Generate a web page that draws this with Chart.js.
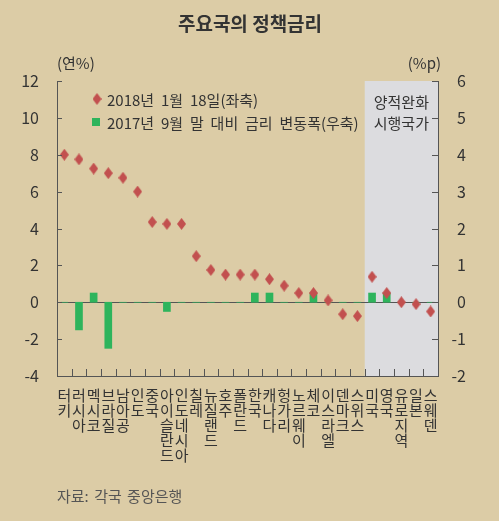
<!DOCTYPE html>
<html>
<head>
<meta charset="utf-8">
<script src="https://cdn.jsdelivr.net/npm/chart.js@4.4.1/dist/chart.umd.min.js"></script>
<style>
  html, body { margin: 0; padding: 0; background: #dccca6; }
  canvas { display: block; }
</style>
</head>
<body>
<canvas id="chart" width="499" height="521"></canvas>
<script>
// 국가 (x축 라벨은 세로쓰기라 한 글자씩 줄바꿈)
const countries = ['터키', '러시아', '멕시코', '브라질', '남아공', '인도', '중국', '아이슬란드',
    '인도네시아', '칠레', '뉴질랜드', '호주', '폴란드', '한국', '캐나다', '헝가리', '노르웨이',
    '체코', '이스라엘', '덴마크', '스위스', '미국', '영국', '유로지역', '일본', '스웨덴'];

// 2018년 1월 18일 정책금리 (좌축, 연%)
const rates = [8.0, 7.75, 7.25, 7.0, 6.75, 6.0, 4.35, 4.25, 4.25, 2.5, 1.75, 1.5, 1.5, 1.5,
    1.25, 0.9, 0.5, 0.5, 0.1, -0.65, -0.75, 1.38, 0.5, 0.0, -0.1, -0.5];

// 2017년 9월 말 대비 금리 변동폭 (우축, %p)
const changes = [0, -0.75, 0.25, -1.25, 0, 0, 0, -0.25, 0, 0, 0, 0, 0, 0.25, 0.25, 0, 0,
    0.25, 0, 0, 0, 0.25, 0.25, 0, 0, 0];

const qeFirst = 21; // 미국부터 양적완화 시행국가

const FONT = '"Noto Sans CJK KR", "Noto Sans", sans-serif';
const RED = '#c2504f';
const GREEN = '#2eb45c';
const AXIS = '#555555';
const TEXT = '#333333';

function diamondImage(w, h, color) {
    const c = document.createElement('canvas');
    c.width = w;
    c.height = h;
    const g = c.getContext('2d');
    g.fillStyle = color;
    g.beginPath();
    g.moveTo(w / 2, 0);
    g.lineTo(w, h / 2);
    g.lineTo(w / 2, h);
    g.lineTo(0, h / 2);
    g.closePath();
    g.fill();
    return c;
}
const diamond = diamondImage(9, 12, RED);

const decorations = {
    id: 'decorations',
    beforeDraw(chart) {
        const {ctx, chartArea: a, scales: {x}} = chart;
        const left = x.getPixelForValue(qeFirst - 0.5);
        ctx.save();
        ctx.fillStyle = '#dcdcdf';
        ctx.fillRect(left, a.top, a.right - left, a.bottom - a.top);
        ctx.restore();
    },
    beforeDatasetsDraw(chart) {
        const {ctx, chartArea: a, scales: {y}} = chart;
        const y0 = Math.round(y.getPixelForValue(0)) + 0.5;
        ctx.save();
        ctx.strokeStyle = AXIS;
        ctx.lineWidth = 1;
        ctx.beginPath();
        ctx.moveTo(a.left, y0);
        ctx.lineTo(a.right, y0);
        ctx.stroke();
        ctx.restore();
    },
    afterDraw(chart) {
        const {ctx, chartArea: a, scales: {x, y, y2}} = chart;
        ctx.save();
        ctx.strokeStyle = AXIS;
        ctx.lineWidth = 1;
        ctx.beginPath();
        // 안쪽으로 향하는 눈금
        y.ticks.forEach(t => {
            const py = Math.round(y.getPixelForValue(t.value)) + 0.5;
            ctx.moveTo(a.left, py);
            ctx.lineTo(a.left + 5, py);
        });
        y2.ticks.forEach(t => {
            const py = Math.round(y2.getPixelForValue(t.value)) + 0.5;
            ctx.moveTo(a.right, py);
            ctx.lineTo(a.right - 6, py);
        });
        for (let i = 1; i < countries.length; i++) {
            const px = Math.round(x.getPixelForValue(i - 0.5)) + 0.5;
            ctx.moveTo(px, a.bottom);
            ctx.lineTo(px, a.bottom - 7);
        }
        ctx.stroke();

        // 우축 눈금 라벨 (오른쪽 정렬)
        ctx.fillStyle = TEXT;
        ctx.font = '16px ' + FONT;
        ctx.textAlign = 'right';
        ctx.textBaseline = 'middle';
        y2.ticks.forEach(t => {
            ctx.fillText(String(t.value), a.right + 28, y2.getPixelForValue(t.value));
        });

        ctx.font = 'bold 19px ' + FONT;
        ctx.textAlign = 'center';
        ctx.fillText('주요국의 정책금리', 250, 24);

        ctx.font = '15px ' + FONT;
        ctx.textAlign = 'left';
        ctx.fillText('(연%)', 57, 63);
        ctx.textAlign = 'right';
        ctx.fillText('(%p)', 441, 63);

        ctx.textAlign = 'center';
        const qeMid = (x.getPixelForValue(qeFirst - 0.5) + a.right) / 2;
        ctx.fillText('양적완화', qeMid, 102);
        ctx.fillText('시행국가', qeMid, 123);

        // 범례
        ctx.textAlign = 'left';
        ctx.font = '15px ' + FONT;
        ctx.wordSpacing = '3.5px';
        ctx.drawImage(diamond, 97 - diamond.width / 2, 99 - diamond.height / 2);
        ctx.fillText('2018년 1월 18일(좌축)', 107, 100);
        ctx.fillStyle = GREEN;
        ctx.fillRect(92, 118, 8, 8);
        ctx.fillStyle = TEXT;
        ctx.fillText('2017년 9월 말 대비 금리 변동폭(우축)', 107, 123);

        ctx.wordSpacing = '2px';
        ctx.fillStyle = '#555555';
        ctx.fillText('자료: 각국 중앙은행', 57, 496);
        ctx.restore();
    }
};

new Chart(document.getElementById('chart'), {
    type: 'bar',
    data: {
        labels: countries.map(c => c.split('')),
        datasets: [
            {
                label: '2018년 1월 18일(좌축)',
                type: 'line',
                data: rates,
                yAxisID: 'y',
                showLine: false,
                pointStyle: diamond,
                pointRadius: 6,
                borderColor: RED,
                backgroundColor: RED
            },
            {
                label: '2017년 9월 말 대비 금리 변동폭(우축)',
                data: changes,
                yAxisID: 'y2',
                backgroundColor: GREEN,
                barThickness: 7
            }
        ]
    },
    options: {
        responsive: false,
        animation: false,
        layout: {
            padding: {top: 81, left: 0, right: 0, bottom: 0}
        },
        scales: {
            x: {
                offset: true,
                grid: {display: false},
                border: {display: true, color: AXIS, width: 1},
                ticks: {
                    autoSkip: false,
                    maxRotation: 0,
                    padding: 4,
                    color: TEXT,
                    font: {family: FONT, size: 15, lineHeight: 1.0}
                },
                afterFit(scale) { scale.height = 145; }
            },
            y: {
                position: 'left',
                min: -4,
                max: 12,
                grid: {display: false},
                border: {display: true, color: AXIS, width: 1},
                ticks: {
                    stepSize: 2,
                    padding: 10,
                    color: TEXT,
                    font: {family: FONT, size: 16}
                },
                afterFit(scale) { scale.width = 57; }
            },
            y2: {
                position: 'right',
                min: -2,
                max: 6,
                grid: {display: false},
                border: {display: true, color: AXIS, width: 1},
                ticks: {
                    stepSize: 1,
                    display: false
                },
                afterFit(scale) { scale.width = 61; }
            }
        },
        plugins: {
            legend: {display: false},
            tooltip: {enabled: false}
        }
    },
    plugins: [decorations]
});
</script>
</body>
</html>
